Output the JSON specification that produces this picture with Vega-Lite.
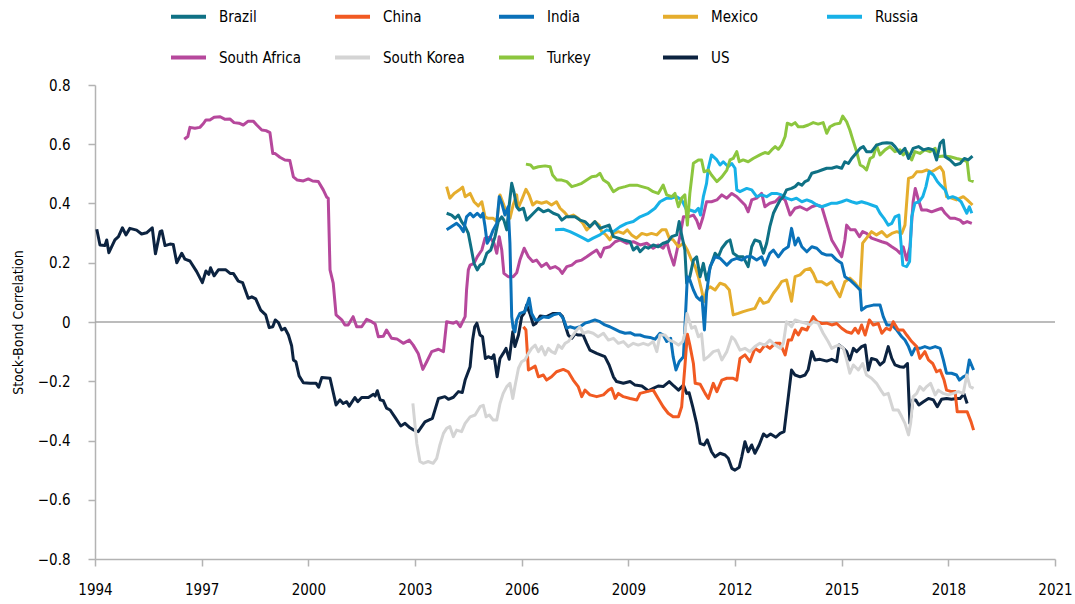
{
"$schema":"https://vega.github.io/schema/vega-lite/v6.json",
"width":960,"height":474,
"autosize":{"type":"none"},
"padding":{"left":95,"top":85,"right":20,"bottom":45},
"config":{"font":"DejaVu Sans Condensed, sans-serif","view":{"stroke":null}},
"data":{"values":[
{"country":"US","year":1994.05,"corr":0.313},{"country":"US","year":1994.14,"corr":0.26},{"country":"US","year":1994.28,"corr":0.258},{"country":"US","year":1994.33,"corr":0.277},{"country":"US","year":1994.39,"corr":0.234},{"country":"US","year":1994.56,"corr":0.277},{"country":"US","year":1994.66,"corr":0.288},{"country":"US","year":1994.77,"corr":0.318},{"country":"US","year":1994.87,"corr":0.294},{"country":"US","year":1994.98,"corr":0.316},{"country":"US","year":1995.17,"corr":0.31},{"country":"US","year":1995.31,"corr":0.297},{"country":"US","year":1995.45,"corr":0.301},{"country":"US","year":1995.61,"corr":0.318},{"country":"US","year":1995.70,"corr":0.23},{"country":"US","year":1995.83,"corr":0.305},{"country":"US","year":1995.88,"corr":0.308},{"country":"US","year":1995.97,"corr":0.258},{"country":"US","year":1996.11,"corr":0.263},{"country":"US","year":1996.20,"corr":0.262},{"country":"US","year":1996.30,"corr":0.2},{"country":"US","year":1996.44,"corr":0.232},{"country":"US","year":1996.53,"corr":0.212},{"country":"US","year":1996.67,"corr":0.206},{"country":"US","year":1996.86,"corr":0.17},{"country":"US","year":1997.02,"corr":0.133},{"country":"US","year":1997.12,"corr":0.172},{"country":"US","year":1997.20,"corr":0.161},{"country":"US","year":1997.25,"corr":0.183},{"country":"US","year":1997.35,"corr":0.156},{"country":"US","year":1997.47,"corr":0.176},{"country":"US","year":1997.68,"corr":0.176},{"country":"US","year":1997.80,"corr":0.164},{"country":"US","year":1997.89,"corr":0.164},{"country":"US","year":1998.03,"corr":0.138},{"country":"US","year":1998.15,"corr":0.133},{"country":"US","year":1998.31,"corr":0.08},{"country":"US","year":1998.41,"corr":0.085},{"country":"US","year":1998.52,"corr":0.078},{"country":"US","year":1998.66,"corr":0.04},{"country":"US","year":1998.80,"corr":0.024},{"country":"US","year":1998.90,"corr":-0.019},{"country":"US","year":1999.00,"corr":-0.016},{"country":"US","year":1999.07,"corr":0.007},{"country":"US","year":1999.16,"corr":-0.002},{"country":"US","year":1999.25,"corr":-0.027},{"country":"US","year":1999.34,"corr":-0.021},{"country":"US","year":1999.44,"corr":-0.044},{"country":"US","year":1999.53,"corr":-0.08},{"country":"US","year":1999.58,"corr":-0.128},{"country":"US","year":1999.65,"corr":-0.134},{"country":"US","year":1999.74,"corr":-0.182},{"country":"US","year":1999.86,"corr":-0.205},{"country":"US","year":2000.05,"corr":-0.207},{"country":"US","year":2000.22,"corr":-0.207},{"country":"US","year":2000.29,"corr":-0.22},{"country":"US","year":2000.38,"corr":-0.187},{"country":"US","year":2000.61,"corr":-0.19},{"country":"US","year":2000.78,"corr":-0.28},{"country":"US","year":2000.89,"corr":-0.263},{"country":"US","year":2000.98,"corr":-0.275},{"country":"US","year":2001.08,"corr":-0.269},{"country":"US","year":2001.15,"corr":-0.284},{"country":"US","year":2001.31,"corr":-0.255},{"country":"US","year":2001.39,"corr":-0.269},{"country":"US","year":2001.50,"corr":-0.255},{"country":"US","year":2001.69,"corr":-0.255},{"country":"US","year":2001.83,"corr":-0.244},{"country":"US","year":2001.88,"corr":-0.25},{"country":"US","year":2001.94,"corr":-0.232},{"country":"US","year":2002.02,"corr":-0.263},{"country":"US","year":2002.11,"corr":-0.266},{"country":"US","year":2002.20,"corr":-0.291},{"country":"US","year":2002.30,"corr":-0.297},{"country":"US","year":2002.44,"corr":-0.322},{"country":"US","year":2002.60,"corr":-0.351},{"country":"US","year":2002.72,"corr":-0.342},{"country":"US","year":2002.86,"corr":-0.357},{"country":"US","year":2002.97,"corr":-0.365},{"country":"US","year":2003.09,"corr":-0.37},{"country":"US","year":2003.28,"corr":-0.337},{"country":"US","year":2003.49,"corr":-0.325},{"country":"US","year":2003.66,"corr":-0.258},{"country":"US","year":2003.84,"corr":-0.252},{"country":"US","year":2003.94,"corr":-0.261},{"country":"US","year":2004.08,"corr":-0.254},{"country":"US","year":2004.22,"corr":-0.235},{"country":"US","year":2004.33,"corr":-0.238},{"country":"US","year":2004.41,"corr":-0.196},{"country":"US","year":2004.55,"corr":-0.151},{"country":"US","year":2004.62,"corr":-0.061},{"country":"US","year":2004.68,"corr":-0.016},{"country":"US","year":2004.74,"corr":-0.004},{"country":"US","year":2004.83,"corr":-0.044},{"country":"US","year":2004.90,"corr":-0.05},{"country":"US","year":2004.98,"corr":-0.123},{"country":"US","year":2005.06,"corr":-0.117},{"country":"US","year":2005.16,"corr":-0.123},{"country":"US","year":2005.22,"corr":-0.111},{"country":"US","year":2005.31,"corr":-0.185},{"country":"US","year":2005.39,"corr":-0.123},{"country":"US","year":2005.48,"corr":-0.106},{"country":"US","year":2005.56,"corr":-0.089},{"country":"US","year":2005.65,"corr":-0.126},{"country":"US","year":2005.75,"corr":-0.033},{"country":"US","year":2005.81,"corr":-0.083},{"country":"US","year":2005.91,"corr":-0.044},{"country":"US","year":2006.00,"corr":0.018},{"country":"US","year":2006.07,"corr":0.029},{"country":"US","year":2006.14,"corr":0.057},{"country":"US","year":2006.23,"corr":0.029},{"country":"US","year":2006.33,"corr":-0.01},{"country":"US","year":2006.40,"corr":-0.005},{"country":"US","year":2006.52,"corr":0.02},{"country":"US","year":2006.70,"corr":0.018},{"country":"US","year":2006.89,"corr":0.029},{"country":"US","year":2007.06,"corr":0.029},{"country":"US","year":2007.15,"corr":0.018},{"country":"US","year":2007.22,"corr":-0.01},{"country":"US","year":2007.31,"corr":-0.044},{"country":"US","year":2007.41,"corr":-0.055},{"country":"US","year":2007.50,"corr":-0.04},{"country":"US","year":2007.59,"corr":-0.044},{"country":"US","year":2007.73,"corr":-0.044},{"country":"US","year":2007.83,"corr":-0.072},{"country":"US","year":2007.92,"corr":-0.095},{"country":"US","year":2008.11,"corr":-0.106},{"country":"US","year":2008.34,"corr":-0.117},{"country":"US","year":2008.46,"corr":-0.145},{"country":"US","year":2008.58,"corr":-0.185},{"country":"US","year":2008.67,"corr":-0.201},{"country":"US","year":2008.86,"corr":-0.207},{"country":"US","year":2009.05,"corr":-0.201},{"country":"US","year":2009.19,"corr":-0.213},{"country":"US","year":2009.38,"corr":-0.216},{"country":"US","year":2009.56,"corr":-0.232},{"country":"US","year":2009.70,"corr":-0.224},{"country":"US","year":2009.84,"corr":-0.216},{"country":"US","year":2009.98,"corr":-0.218},{"country":"US","year":2010.15,"corr":-0.201},{"country":"US","year":2010.28,"corr":-0.216},{"country":"US","year":2010.41,"corr":-0.23},{"country":"US","year":2010.55,"corr":-0.213},{"country":"US","year":2010.64,"corr":-0.241},{"country":"US","year":2010.71,"corr":-0.239},{"country":"US","year":2010.81,"corr":-0.286},{"country":"US","year":2010.92,"corr":-0.342},{"country":"US","year":2011.02,"corr":-0.41},{"country":"US","year":2011.13,"corr":-0.415},{"country":"US","year":2011.22,"corr":-0.398},{"country":"US","year":2011.34,"corr":-0.438},{"country":"US","year":2011.44,"corr":-0.455},{"country":"US","year":2011.58,"corr":-0.443},{"country":"US","year":2011.72,"corr":-0.449},{"country":"US","year":2011.81,"corr":-0.46},{"country":"US","year":2011.91,"corr":-0.494},{"country":"US","year":2012.00,"corr":-0.5},{"country":"US","year":2012.12,"corr":-0.49},{"country":"US","year":2012.19,"corr":-0.455},{"country":"US","year":2012.28,"corr":-0.404},{"country":"US","year":2012.37,"corr":-0.438},{"country":"US","year":2012.47,"corr":-0.415},{"country":"US","year":2012.56,"corr":-0.443},{"country":"US","year":2012.68,"corr":-0.415},{"country":"US","year":2012.80,"corr":-0.378},{"country":"US","year":2012.89,"corr":-0.387},{"country":"US","year":2013.00,"corr":-0.378},{"country":"US","year":2013.15,"corr":-0.389},{"country":"US","year":2013.27,"corr":-0.376},{"country":"US","year":2013.38,"corr":-0.37},{"country":"US","year":2013.50,"corr":-0.252},{"country":"US","year":2013.59,"corr":-0.162},{"country":"US","year":2013.69,"corr":-0.179},{"country":"US","year":2013.83,"corr":-0.185},{"country":"US","year":2013.97,"corr":-0.179},{"country":"US","year":2014.06,"corr":-0.16},{"country":"US","year":2014.16,"corr":-0.1},{"country":"US","year":2014.25,"corr":-0.128},{"country":"US","year":2014.39,"corr":-0.126},{"country":"US","year":2014.58,"corr":-0.132},{"country":"US","year":2014.72,"corr":-0.126},{"country":"US","year":2014.86,"corr":-0.134},{"country":"US","year":2014.93,"corr":-0.078},{"country":"US","year":2015.05,"corr":-0.089},{"country":"US","year":2015.14,"corr":-0.1},{"country":"US","year":2015.23,"corr":-0.128},{"country":"US","year":2015.33,"corr":-0.089},{"country":"US","year":2015.42,"corr":-0.1},{"country":"US","year":2015.56,"corr":-0.083},{"country":"US","year":2015.66,"corr":-0.078},{"country":"US","year":2015.75,"corr":-0.162},{"country":"US","year":2015.84,"corr":-0.123},{"country":"US","year":2015.98,"corr":-0.128},{"country":"US","year":2016.08,"corr":-0.145},{"country":"US","year":2016.19,"corr":-0.134},{"country":"US","year":2016.31,"corr":-0.083},{"country":"US","year":2016.41,"corr":-0.123},{"country":"US","year":2016.50,"corr":-0.145},{"country":"US","year":2016.64,"corr":-0.151},{"country":"US","year":2016.75,"corr":-0.153},{"country":"US","year":2016.85,"corr":-0.14},{"country":"US","year":2016.92,"corr":-0.342},{"country":"US","year":2017.00,"corr":-0.263},{"country":"US","year":2017.08,"corr":-0.263},{"country":"US","year":2017.17,"corr":-0.28},{"country":"US","year":2017.30,"corr":-0.269},{"country":"US","year":2017.44,"corr":-0.258},{"country":"US","year":2017.58,"corr":-0.263},{"country":"US","year":2017.69,"corr":-0.286},{"country":"US","year":2017.81,"corr":-0.261},{"country":"US","year":2017.95,"corr":-0.258},{"country":"US","year":2018.09,"corr":-0.261},{"country":"US","year":2018.23,"corr":-0.258},{"country":"US","year":2018.33,"corr":-0.258},{"country":"US","year":2018.44,"corr":-0.243},{"country":"US","year":2018.53,"corr":-0.275},
{"country":"South Africa","year":1996.51,"corr":0.617},{"country":"South Africa","year":1996.61,"corr":0.626},{"country":"South Africa","year":1996.67,"corr":0.657},{"country":"South Africa","year":1996.81,"corr":0.654},{"country":"South Africa","year":1996.95,"corr":0.657},{"country":"South Africa","year":1997.05,"corr":0.67},{"country":"South Africa","year":1997.12,"corr":0.682},{"country":"South Africa","year":1997.23,"corr":0.682},{"country":"South Africa","year":1997.35,"corr":0.691},{"country":"South Africa","year":1997.52,"corr":0.693},{"country":"South Africa","year":1997.66,"corr":0.684},{"country":"South Africa","year":1997.80,"corr":0.685},{"country":"South Africa","year":1997.91,"corr":0.673},{"country":"South Africa","year":1998.05,"corr":0.671},{"country":"South Africa","year":1998.17,"corr":0.665},{"country":"South Africa","year":1998.31,"corr":0.678},{"country":"South Africa","year":1998.45,"corr":0.678},{"country":"South Africa","year":1998.55,"corr":0.665},{"country":"South Africa","year":1998.69,"corr":0.648},{"country":"South Africa","year":1998.81,"corr":0.646},{"country":"South Africa","year":1998.92,"corr":0.639},{"country":"South Africa","year":1999.00,"corr":0.569},{"country":"South Africa","year":1999.06,"corr":0.569},{"country":"South Africa","year":1999.20,"corr":0.556},{"country":"South Africa","year":1999.34,"corr":0.547},{"country":"South Africa","year":1999.48,"corr":0.545},{"country":"South Africa","year":1999.58,"corr":0.49},{"country":"South Africa","year":1999.69,"corr":0.479},{"country":"South Africa","year":1999.86,"corr":0.476},{"country":"South Africa","year":2000.00,"corr":0.483},{"country":"South Africa","year":2000.12,"corr":0.476},{"country":"South Africa","year":2000.28,"corr":0.474},{"country":"South Africa","year":2000.42,"corr":0.446},{"country":"South Africa","year":2000.52,"corr":0.421},{"country":"South Africa","year":2000.56,"corr":0.418},{"country":"South Africa","year":2000.61,"corr":0.176},{"country":"South Africa","year":2000.70,"corr":0.131},{"country":"South Africa","year":2000.78,"corr":0.024},{"country":"South Africa","year":2000.94,"corr":0.007},{"country":"South Africa","year":2001.03,"corr":-0.01},{"country":"South Africa","year":2001.12,"corr":-0.01},{"country":"South Africa","year":2001.26,"corr":0.018},{"country":"South Africa","year":2001.36,"corr":-0.016},{"country":"South Africa","year":2001.50,"corr":-0.016},{"country":"South Africa","year":2001.64,"corr":0.009},{"country":"South Africa","year":2001.78,"corr":0.001},{"country":"South Africa","year":2001.88,"corr":-0.007},{"country":"South Africa","year":2001.97,"corr":-0.05},{"country":"South Africa","year":2002.11,"corr":-0.048},{"country":"South Africa","year":2002.20,"corr":-0.027},{"country":"South Africa","year":2002.34,"corr":-0.055},{"country":"South Africa","year":2002.49,"corr":-0.057},{"country":"South Africa","year":2002.67,"corr":-0.072},{"country":"South Africa","year":2002.84,"corr":-0.061},{"country":"South Africa","year":2002.95,"corr":-0.078},{"country":"South Africa","year":2003.09,"corr":-0.106},{"country":"South Africa","year":2003.22,"corr":-0.16},{"country":"South Africa","year":2003.33,"corr":-0.134},{"country":"South Africa","year":2003.47,"corr":-0.1},{"country":"South Africa","year":2003.66,"corr":-0.092},{"country":"South Africa","year":2003.80,"corr":-0.1},{"country":"South Africa","year":2003.89,"corr":0.001},{"country":"South Africa","year":2004.08,"corr":-0.004},{"country":"South Africa","year":2004.17,"corr":0.001},{"country":"South Africa","year":2004.27,"corr":-0.016},{"country":"South Africa","year":2004.41,"corr":0.018},{"country":"South Africa","year":2004.45,"corr":0.108},{"country":"South Africa","year":2004.50,"corr":0.176},{"country":"South Africa","year":2004.55,"corr":0.192},{"country":"South Africa","year":2004.66,"corr":0.198},{"country":"South Africa","year":2004.75,"corr":0.22},{"country":"South Africa","year":2004.88,"corr":0.243},{"country":"South Africa","year":2004.97,"corr":0.283},{"country":"South Africa","year":2005.11,"corr":0.286},{"country":"South Africa","year":2005.22,"corr":0.266},{"country":"South Africa","year":2005.30,"corr":0.232},{"country":"South Africa","year":2005.37,"corr":0.288},{"country":"South Africa","year":2005.44,"corr":0.243},{"country":"South Africa","year":2005.50,"corr":0.164},{"country":"South Africa","year":2005.62,"corr":0.153},{"country":"South Africa","year":2005.76,"corr":0.153},{"country":"South Africa","year":2005.86,"corr":0.166},{"country":"South Africa","year":2005.95,"corr":0.209},{"country":"South Africa","year":2006.07,"corr":0.249},{"country":"South Africa","year":2006.19,"corr":0.22},{"country":"South Africa","year":2006.31,"corr":0.204},{"country":"South Africa","year":2006.42,"corr":0.209},{"country":"South Africa","year":2006.56,"corr":0.187},{"country":"South Africa","year":2006.70,"corr":0.198},{"country":"South Africa","year":2006.80,"corr":0.181},{"country":"South Africa","year":2006.94,"corr":0.187},{"country":"South Africa","year":2007.06,"corr":0.178},{"country":"South Africa","year":2007.14,"corr":0.164},{"country":"South Africa","year":2007.27,"corr":0.187},{"country":"South Africa","year":2007.41,"corr":0.192},{"country":"South Africa","year":2007.53,"corr":0.204},{"country":"South Africa","year":2007.69,"corr":0.209},{"country":"South Africa","year":2007.83,"corr":0.22},{"country":"South Africa","year":2007.97,"corr":0.232},{"country":"South Africa","year":2008.11,"corr":0.243},{"country":"South Africa","year":2008.22,"corr":0.22},{"country":"South Africa","year":2008.32,"corr":0.249},{"country":"South Africa","year":2008.48,"corr":0.254},{"country":"South Africa","year":2008.63,"corr":0.271},{"country":"South Africa","year":2008.77,"corr":0.277},{"country":"South Africa","year":2008.95,"corr":0.266},{"country":"South Africa","year":2009.14,"corr":0.271},{"country":"South Africa","year":2009.33,"corr":0.26},{"country":"South Africa","year":2009.52,"corr":0.266},{"country":"South Africa","year":2009.70,"corr":0.249},{"country":"South Africa","year":2009.84,"corr":0.26},{"country":"South Africa","year":2009.98,"corr":0.249},{"country":"South Africa","year":2010.08,"corr":0.271},{"country":"South Africa","year":2010.17,"corr":0.232},{"country":"South Africa","year":2010.28,"corr":0.192},{"country":"South Africa","year":2010.36,"corr":0.237},{"country":"South Africa","year":2010.45,"corr":0.288},{"country":"South Africa","year":2010.55,"corr":0.355},{"country":"South Africa","year":2010.69,"corr":0.355},{"country":"South Africa","year":2010.83,"corr":0.361},{"country":"South Africa","year":2010.92,"corr":0.344},{"country":"South Africa","year":2011.00,"corr":0.316},{"country":"South Africa","year":2011.09,"corr":0.35},{"country":"South Africa","year":2011.20,"corr":0.406},{"country":"South Africa","year":2011.34,"corr":0.406},{"country":"South Africa","year":2011.49,"corr":0.412},{"country":"South Africa","year":2011.63,"corr":0.429},{"country":"South Africa","year":2011.77,"corr":0.418},{"country":"South Africa","year":2011.91,"corr":0.434},{"country":"South Africa","year":2012.05,"corr":0.423},{"country":"South Africa","year":2012.14,"corr":0.412},{"country":"South Africa","year":2012.28,"corr":0.395},{"country":"South Africa","year":2012.37,"corr":0.372},{"country":"South Africa","year":2012.47,"corr":0.412},{"country":"South Africa","year":2012.61,"corr":0.418},{"country":"South Africa","year":2012.75,"corr":0.434},{"country":"South Africa","year":2012.84,"corr":0.389},{"country":"South Africa","year":2012.98,"corr":0.401},{"country":"South Africa","year":2013.13,"corr":0.406},{"country":"South Africa","year":2013.27,"corr":0.423},{"country":"South Africa","year":2013.41,"corr":0.412},{"country":"South Africa","year":2013.55,"corr":0.361},{"country":"South Africa","year":2013.69,"corr":0.384},{"country":"South Africa","year":2013.83,"corr":0.389},{"country":"South Africa","year":2014.02,"corr":0.378},{"country":"South Africa","year":2014.16,"corr":0.389},{"country":"South Africa","year":2014.30,"corr":0.395},{"country":"South Africa","year":2014.44,"corr":0.389},{"country":"South Africa","year":2014.58,"corr":0.333},{"country":"South Africa","year":2014.72,"corr":0.277},{"country":"South Africa","year":2014.86,"corr":0.249},{"country":"South Africa","year":2015.00,"corr":0.22},{"country":"South Africa","year":2015.09,"corr":0.277},{"country":"South Africa","year":2015.14,"corr":0.327},{"country":"South Africa","year":2015.25,"corr":0.311},{"country":"South Africa","year":2015.38,"corr":0.311},{"country":"South Africa","year":2015.50,"corr":0.288},{"country":"South Africa","year":2015.59,"corr":0.305},{"country":"South Africa","year":2015.70,"corr":0.299},{"country":"South Africa","year":2015.84,"corr":0.283},{"country":"South Africa","year":2015.98,"corr":0.277},{"country":"South Africa","year":2016.13,"corr":0.271},{"country":"South Africa","year":2016.27,"corr":0.266},{"country":"South Africa","year":2016.41,"corr":0.254},{"country":"South Africa","year":2016.55,"corr":0.243},{"country":"South Africa","year":2016.64,"corr":0.232},{"country":"South Africa","year":2016.73,"corr":0.254},{"country":"South Africa","year":2016.83,"corr":0.209},{"country":"South Africa","year":2016.92,"corr":0.254},{"country":"South Africa","year":2017.01,"corr":0.406},{"country":"South Africa","year":2017.07,"corr":0.451},{"country":"South Africa","year":2017.16,"corr":0.412},{"country":"South Africa","year":2017.25,"corr":0.378},{"country":"South Africa","year":2017.39,"corr":0.378},{"country":"South Africa","year":2017.53,"corr":0.372},{"country":"South Africa","year":2017.67,"corr":0.378},{"country":"South Africa","year":2017.81,"corr":0.384},{"country":"South Africa","year":2017.91,"corr":0.367},{"country":"South Africa","year":2018.05,"corr":0.35},{"country":"South Africa","year":2018.19,"corr":0.35},{"country":"South Africa","year":2018.33,"corr":0.344},{"country":"South Africa","year":2018.42,"corr":0.333},{"country":"South Africa","year":2018.53,"corr":0.339},{"country":"South Africa","year":2018.66,"corr":0.333},
{"country":"Mexico","year":2003.89,"corr":0.457},{"country":"Mexico","year":2003.98,"corr":0.418},{"country":"Mexico","year":2004.10,"corr":0.434},{"country":"Mexico","year":2004.25,"corr":0.446},{"country":"Mexico","year":2004.34,"corr":0.455},{"country":"Mexico","year":2004.41,"corr":0.423},{"country":"Mexico","year":2004.55,"corr":0.434},{"country":"Mexico","year":2004.66,"corr":0.406},{"country":"Mexico","year":2004.78,"corr":0.392},{"country":"Mexico","year":2004.88,"corr":0.406},{"country":"Mexico","year":2004.97,"corr":0.355},{"country":"Mexico","year":2005.06,"corr":0.35},{"country":"Mexico","year":2005.20,"corr":0.35},{"country":"Mexico","year":2005.30,"corr":0.339},{"country":"Mexico","year":2005.39,"corr":0.429},{"country":"Mexico","year":2005.48,"corr":0.401},{"country":"Mexico","year":2005.58,"corr":0.367},{"country":"Mexico","year":2005.67,"corr":0.35},{"country":"Mexico","year":2005.76,"corr":0.395},{"country":"Mexico","year":2005.86,"corr":0.429},{"country":"Mexico","year":2005.90,"corr":0.384},{"country":"Mexico","year":2006.00,"corr":0.412},{"country":"Mexico","year":2006.12,"corr":0.448},{"country":"Mexico","year":2006.21,"corr":0.429},{"country":"Mexico","year":2006.31,"corr":0.395},{"country":"Mexico","year":2006.42,"corr":0.406},{"country":"Mexico","year":2006.56,"corr":0.401},{"country":"Mexico","year":2006.70,"corr":0.406},{"country":"Mexico","year":2006.84,"corr":0.395},{"country":"Mexico","year":2006.98,"corr":0.406},{"country":"Mexico","year":2007.08,"corr":0.384},{"country":"Mexico","year":2007.19,"corr":0.372},{"country":"Mexico","year":2007.31,"corr":0.355},{"country":"Mexico","year":2007.45,"corr":0.361},{"country":"Mexico","year":2007.59,"corr":0.35},{"country":"Mexico","year":2007.72,"corr":0.333},{"country":"Mexico","year":2007.83,"corr":0.311},{"country":"Mexico","year":2007.92,"corr":0.322},{"country":"Mexico","year":2008.06,"corr":0.339},{"country":"Mexico","year":2008.18,"corr":0.327},{"country":"Mexico","year":2008.25,"corr":0.305},{"country":"Mexico","year":2008.37,"corr":0.294},{"country":"Mexico","year":2008.48,"corr":0.277},{"country":"Mexico","year":2008.58,"corr":0.299},{"country":"Mexico","year":2008.72,"corr":0.305},{"country":"Mexico","year":2008.86,"corr":0.299},{"country":"Mexico","year":2008.97,"corr":0.311},{"country":"Mexico","year":2009.09,"corr":0.294},{"country":"Mexico","year":2009.23,"corr":0.283},{"country":"Mexico","year":2009.38,"corr":0.299},{"country":"Mexico","year":2009.52,"corr":0.294},{"country":"Mexico","year":2009.65,"corr":0.299},{"country":"Mexico","year":2009.80,"corr":0.294},{"country":"Mexico","year":2009.94,"corr":0.311},{"country":"Mexico","year":2010.06,"corr":0.311},{"country":"Mexico","year":2010.15,"corr":0.283},{"country":"Mexico","year":2010.26,"corr":0.277},{"country":"Mexico","year":2010.41,"corr":0.254},{"country":"Mexico","year":2010.55,"corr":0.266},{"country":"Mexico","year":2010.66,"corr":0.243},{"country":"Mexico","year":2010.78,"corr":0.209},{"country":"Mexico","year":2010.88,"corr":0.187},{"country":"Mexico","year":2010.97,"corr":0.153},{"country":"Mexico","year":2011.06,"corr":0.108},{"country":"Mexico","year":2011.13,"corr":0.069},{"country":"Mexico","year":2011.20,"corr":0.108},{"country":"Mexico","year":2011.30,"corr":0.119},{"country":"Mexico","year":2011.44,"corr":0.108},{"country":"Mexico","year":2011.58,"corr":0.131},{"country":"Mexico","year":2011.72,"corr":0.125},{"country":"Mexico","year":2011.84,"corr":0.108},{"country":"Mexico","year":2011.95,"corr":0.024},{"country":"Mexico","year":2012.09,"corr":0.029},{"country":"Mexico","year":2012.23,"corr":0.035},{"country":"Mexico","year":2012.37,"corr":0.04},{"country":"Mexico","year":2012.56,"corr":0.046},{"country":"Mexico","year":2012.70,"corr":0.08},{"country":"Mexico","year":2012.80,"corr":0.063},{"country":"Mexico","year":2012.94,"corr":0.069},{"country":"Mexico","year":2013.08,"corr":0.097},{"country":"Mexico","year":2013.22,"corr":0.119},{"country":"Mexico","year":2013.31,"corr":0.136},{"country":"Mexico","year":2013.45,"corr":0.142},{"country":"Mexico","year":2013.59,"corr":0.07},{"country":"Mexico","year":2013.69,"corr":0.153},{"country":"Mexico","year":2013.83,"corr":0.159},{"country":"Mexico","year":2013.97,"corr":0.176},{"country":"Mexico","year":2014.11,"corr":0.181},{"country":"Mexico","year":2014.20,"corr":0.164},{"country":"Mexico","year":2014.30,"corr":0.136},{"country":"Mexico","year":2014.44,"corr":0.136},{"country":"Mexico","year":2014.58,"corr":0.125},{"country":"Mexico","year":2014.72,"corr":0.136},{"country":"Mexico","year":2014.81,"corr":0.114},{"country":"Mexico","year":2014.95,"corr":0.085},{"country":"Mexico","year":2015.09,"corr":0.136},{"country":"Mexico","year":2015.23,"corr":0.148},{"country":"Mexico","year":2015.38,"corr":0.131},{"country":"Mexico","year":2015.52,"corr":0.108},{"country":"Mexico","year":2015.59,"corr":0.266},{"country":"Mexico","year":2015.70,"corr":0.283},{"country":"Mexico","year":2015.84,"corr":0.305},{"country":"Mexico","year":2015.98,"corr":0.294},{"country":"Mexico","year":2016.13,"corr":0.305},{"country":"Mexico","year":2016.27,"corr":0.288},{"country":"Mexico","year":2016.41,"corr":0.299},{"country":"Mexico","year":2016.55,"corr":0.305},{"country":"Mexico","year":2016.69,"corr":0.299},{"country":"Mexico","year":2016.78,"corr":0.327},{"country":"Mexico","year":2016.88,"corr":0.485},{"country":"Mexico","year":2017.00,"corr":0.49},{"country":"Mexico","year":2017.11,"corr":0.507},{"country":"Mexico","year":2017.25,"corr":0.507},{"country":"Mexico","year":2017.39,"corr":0.513},{"country":"Mexico","year":2017.53,"corr":0.507},{"country":"Mexico","year":2017.62,"corr":0.513},{"country":"Mexico","year":2017.77,"corr":0.524},{"country":"Mexico","year":2017.86,"corr":0.507},{"country":"Mexico","year":2017.95,"corr":0.423},{"country":"Mexico","year":2018.09,"corr":0.418},{"country":"Mexico","year":2018.23,"corr":0.412},{"country":"Mexico","year":2018.42,"corr":0.423},{"country":"Mexico","year":2018.53,"corr":0.412},{"country":"Mexico","year":2018.68,"corr":0.395},
{"country":"Russia","year":2006.94,"corr":0.311},{"country":"Russia","year":2007.17,"corr":0.313},{"country":"Russia","year":2007.36,"corr":0.305},{"country":"Russia","year":2007.55,"corr":0.294},{"country":"Russia","year":2007.73,"corr":0.283},{"country":"Russia","year":2007.87,"corr":0.274},{"country":"Russia","year":2008.01,"corr":0.283},{"country":"Russia","year":2008.20,"corr":0.294},{"country":"Russia","year":2008.39,"corr":0.311},{"country":"Russia","year":2008.58,"corr":0.305},{"country":"Russia","year":2008.77,"corr":0.322},{"country":"Russia","year":2008.95,"corr":0.333},{"country":"Russia","year":2009.14,"corr":0.339},{"country":"Russia","year":2009.33,"corr":0.355},{"country":"Russia","year":2009.56,"corr":0.367},{"country":"Russia","year":2009.75,"corr":0.384},{"country":"Russia","year":2009.89,"corr":0.406},{"country":"Russia","year":2010.08,"corr":0.418},{"country":"Russia","year":2010.22,"corr":0.418},{"country":"Russia","year":2010.36,"corr":0.423},{"country":"Russia","year":2010.50,"corr":0.412},{"country":"Russia","year":2010.64,"corr":0.378},{"country":"Russia","year":2010.73,"corr":0.378},{"country":"Russia","year":2010.88,"corr":0.372},{"country":"Russia","year":2010.97,"corr":0.384},{"country":"Russia","year":2011.03,"corr":0.361},{"country":"Russia","year":2011.11,"corr":0.423},{"country":"Russia","year":2011.20,"corr":0.468},{"country":"Russia","year":2011.25,"corr":0.519},{"country":"Russia","year":2011.34,"corr":0.564},{"country":"Russia","year":2011.49,"corr":0.547},{"country":"Russia","year":2011.58,"corr":0.53},{"country":"Russia","year":2011.67,"corr":0.541},{"country":"Russia","year":2011.81,"corr":0.524},{"country":"Russia","year":2011.91,"corr":0.535},{"country":"Russia","year":2012.00,"corr":0.519},{"country":"Russia","year":2012.05,"corr":0.446},{"country":"Russia","year":2012.14,"corr":0.44},{"country":"Russia","year":2012.33,"corr":0.451},{"country":"Russia","year":2012.47,"corr":0.446},{"country":"Russia","year":2012.61,"corr":0.423},{"country":"Russia","year":2012.75,"corr":0.429},{"country":"Russia","year":2012.89,"corr":0.423},{"country":"Russia","year":2013.03,"corr":0.434},{"country":"Russia","year":2013.17,"corr":0.434},{"country":"Russia","year":2013.31,"corr":0.429},{"country":"Russia","year":2013.45,"corr":0.418},{"country":"Russia","year":2013.59,"corr":0.412},{"country":"Russia","year":2013.73,"corr":0.418},{"country":"Russia","year":2013.88,"corr":0.406},{"country":"Russia","year":2014.02,"corr":0.412},{"country":"Russia","year":2014.16,"corr":0.406},{"country":"Russia","year":2014.30,"corr":0.395},{"country":"Russia","year":2014.44,"corr":0.389},{"country":"Russia","year":2014.58,"corr":0.395},{"country":"Russia","year":2014.72,"corr":0.401},{"country":"Russia","year":2014.86,"corr":0.401},{"country":"Russia","year":2015.00,"corr":0.406},{"country":"Russia","year":2015.14,"corr":0.412},{"country":"Russia","year":2015.28,"corr":0.406},{"country":"Russia","year":2015.42,"corr":0.401},{"country":"Russia","year":2015.56,"corr":0.406},{"country":"Russia","year":2015.70,"corr":0.401},{"country":"Russia","year":2015.84,"corr":0.395},{"country":"Russia","year":2015.98,"corr":0.389},{"country":"Russia","year":2016.08,"corr":0.367},{"country":"Russia","year":2016.19,"corr":0.35},{"country":"Russia","year":2016.31,"corr":0.327},{"country":"Russia","year":2016.41,"corr":0.333},{"country":"Russia","year":2016.50,"corr":0.355},{"country":"Russia","year":2016.61,"corr":0.361},{"country":"Russia","year":2016.66,"corr":0.277},{"country":"Russia","year":2016.72,"corr":0.192},{"country":"Russia","year":2016.83,"corr":0.187},{"country":"Russia","year":2016.91,"corr":0.204},{"country":"Russia","year":2016.97,"corr":0.355},{"country":"Russia","year":2017.06,"corr":0.401},{"country":"Russia","year":2017.18,"corr":0.406},{"country":"Russia","year":2017.28,"corr":0.423},{"country":"Russia","year":2017.37,"corr":0.457},{"country":"Russia","year":2017.46,"corr":0.507},{"country":"Russia","year":2017.58,"corr":0.496},{"country":"Russia","year":2017.69,"corr":0.474},{"country":"Russia","year":2017.78,"corr":0.462},{"country":"Russia","year":2017.91,"corr":0.446},{"country":"Russia","year":2018.00,"corr":0.418},{"country":"Russia","year":2018.12,"corr":0.423},{"country":"Russia","year":2018.23,"corr":0.418},{"country":"Russia","year":2018.36,"corr":0.406},{"country":"Russia","year":2018.45,"corr":0.384},{"country":"Russia","year":2018.52,"corr":0.367},{"country":"Russia","year":2018.59,"corr":0.389},{"country":"Russia","year":2018.66,"corr":0.367},
{"country":"Turkey","year":2006.12,"corr":0.533},{"country":"Turkey","year":2006.25,"corr":0.53},{"country":"Turkey","year":2006.33,"corr":0.519},{"country":"Turkey","year":2006.47,"corr":0.524},{"country":"Turkey","year":2006.66,"corr":0.527},{"country":"Turkey","year":2006.80,"corr":0.524},{"country":"Turkey","year":2006.87,"corr":0.496},{"country":"Turkey","year":2006.99,"corr":0.479},{"country":"Turkey","year":2007.13,"corr":0.479},{"country":"Turkey","year":2007.27,"corr":0.474},{"country":"Turkey","year":2007.41,"corr":0.457},{"country":"Turkey","year":2007.55,"corr":0.462},{"country":"Turkey","year":2007.69,"corr":0.468},{"country":"Turkey","year":2007.83,"corr":0.479},{"country":"Turkey","year":2007.97,"corr":0.49},{"country":"Turkey","year":2008.11,"corr":0.493},{"country":"Turkey","year":2008.20,"corr":0.502},{"country":"Turkey","year":2008.30,"corr":0.479},{"country":"Turkey","year":2008.44,"corr":0.468},{"country":"Turkey","year":2008.58,"corr":0.44},{"country":"Turkey","year":2008.72,"corr":0.451},{"country":"Turkey","year":2008.91,"corr":0.457},{"country":"Turkey","year":2009.05,"corr":0.462},{"country":"Turkey","year":2009.24,"corr":0.462},{"country":"Turkey","year":2009.38,"corr":0.457},{"country":"Turkey","year":2009.56,"corr":0.451},{"country":"Turkey","year":2009.70,"corr":0.44},{"country":"Turkey","year":2009.84,"corr":0.434},{"country":"Turkey","year":2009.98,"corr":0.462},{"country":"Turkey","year":2010.08,"corr":0.429},{"country":"Turkey","year":2010.22,"corr":0.423},{"country":"Turkey","year":2010.31,"corr":0.434},{"country":"Turkey","year":2010.41,"corr":0.389},{"country":"Turkey","year":2010.50,"corr":0.418},{"country":"Turkey","year":2010.59,"corr":0.429},{"country":"Turkey","year":2010.66,"corr":0.327},{"country":"Turkey","year":2010.73,"corr":0.434},{"country":"Turkey","year":2010.83,"corr":0.536},{"country":"Turkey","year":2010.97,"corr":0.547},{"country":"Turkey","year":2011.06,"corr":0.547},{"country":"Turkey","year":2011.13,"corr":0.507},{"country":"Turkey","year":2011.25,"corr":0.513},{"country":"Turkey","year":2011.34,"corr":0.496},{"country":"Turkey","year":2011.49,"corr":0.474},{"country":"Turkey","year":2011.63,"corr":0.49},{"country":"Turkey","year":2011.77,"corr":0.513},{"country":"Turkey","year":2011.86,"corr":0.547},{"country":"Turkey","year":2011.95,"corr":0.552},{"country":"Turkey","year":2012.05,"corr":0.575},{"country":"Turkey","year":2012.12,"corr":0.541},{"country":"Turkey","year":2012.23,"corr":0.547},{"country":"Turkey","year":2012.37,"corr":0.541},{"country":"Turkey","year":2012.51,"corr":0.552},{"country":"Turkey","year":2012.70,"corr":0.564},{"country":"Turkey","year":2012.84,"corr":0.572},{"country":"Turkey","year":2012.94,"corr":0.569},{"country":"Turkey","year":2013.03,"corr":0.581},{"country":"Turkey","year":2013.13,"corr":0.592},{"country":"Turkey","year":2013.22,"corr":0.583},{"country":"Turkey","year":2013.31,"corr":0.597},{"country":"Turkey","year":2013.41,"corr":0.626},{"country":"Turkey","year":2013.47,"corr":0.671},{"country":"Turkey","year":2013.59,"corr":0.665},{"country":"Turkey","year":2013.69,"corr":0.673},{"country":"Turkey","year":2013.78,"corr":0.659},{"country":"Turkey","year":2013.92,"corr":0.659},{"country":"Turkey","year":2014.06,"corr":0.665},{"country":"Turkey","year":2014.20,"corr":0.673},{"country":"Turkey","year":2014.34,"corr":0.668},{"country":"Turkey","year":2014.48,"corr":0.673},{"country":"Turkey","year":2014.58,"corr":0.637},{"country":"Turkey","year":2014.67,"corr":0.659},{"country":"Turkey","year":2014.81,"corr":0.668},{"country":"Turkey","year":2014.95,"corr":0.671},{"country":"Turkey","year":2015.03,"corr":0.695},{"country":"Turkey","year":2015.14,"corr":0.676},{"country":"Turkey","year":2015.23,"corr":0.648},{"country":"Turkey","year":2015.33,"corr":0.609},{"country":"Turkey","year":2015.42,"corr":0.575},{"country":"Turkey","year":2015.52,"corr":0.53},{"country":"Turkey","year":2015.61,"corr":0.524},{"country":"Turkey","year":2015.70,"corr":0.513},{"country":"Turkey","year":2015.80,"corr":0.552},{"country":"Turkey","year":2015.89,"corr":0.558},{"country":"Turkey","year":2015.98,"corr":0.597},{"country":"Turkey","year":2016.08,"corr":0.564},{"country":"Turkey","year":2016.22,"corr":0.581},{"country":"Turkey","year":2016.36,"corr":0.592},{"country":"Turkey","year":2016.50,"corr":0.575},{"country":"Turkey","year":2016.64,"corr":0.581},{"country":"Turkey","year":2016.73,"corr":0.564},{"country":"Turkey","year":2016.83,"corr":0.575},{"country":"Turkey","year":2016.97,"corr":0.547},{"country":"Turkey","year":2017.06,"corr":0.575},{"country":"Turkey","year":2017.20,"corr":0.569},{"country":"Turkey","year":2017.34,"corr":0.581},{"country":"Turkey","year":2017.48,"corr":0.575},{"country":"Turkey","year":2017.63,"corr":0.586},{"country":"Turkey","year":2017.69,"corr":0.558},{"country":"Turkey","year":2017.86,"corr":0.56},{"country":"Turkey","year":2018.05,"corr":0.558},{"country":"Turkey","year":2018.23,"corr":0.552},{"country":"Turkey","year":2018.42,"corr":0.547},{"country":"Turkey","year":2018.53,"corr":0.541},{"country":"Turkey","year":2018.59,"corr":0.479},{"country":"Turkey","year":2018.71,"corr":0.474},
{"country":"Brazil","year":2003.89,"corr":0.367},{"country":"Brazil","year":2004.03,"corr":0.361},{"country":"Brazil","year":2004.13,"corr":0.35},{"country":"Brazil","year":2004.22,"corr":0.361},{"country":"Brazil","year":2004.31,"corr":0.339},{"country":"Brazil","year":2004.41,"corr":0.322},{"country":"Brazil","year":2004.50,"corr":0.299},{"country":"Brazil","year":2004.59,"corr":0.243},{"country":"Brazil","year":2004.66,"corr":0.198},{"country":"Brazil","year":2004.75,"corr":0.176},{"country":"Brazil","year":2004.83,"corr":0.192},{"country":"Brazil","year":2004.92,"corr":0.198},{"country":"Brazil","year":2005.02,"corr":0.232},{"country":"Brazil","year":2005.13,"corr":0.243},{"country":"Brazil","year":2005.25,"corr":0.288},{"country":"Brazil","year":2005.34,"corr":0.339},{"country":"Brazil","year":2005.44,"corr":0.355},{"country":"Brazil","year":2005.50,"corr":0.344},{"country":"Brazil","year":2005.58,"corr":0.311},{"country":"Brazil","year":2005.64,"corr":0.384},{"country":"Brazil","year":2005.72,"corr":0.468},{"country":"Brazil","year":2005.78,"corr":0.44},{"country":"Brazil","year":2005.86,"corr":0.389},{"country":"Brazil","year":2005.93,"corr":0.378},{"country":"Brazil","year":2006.05,"corr":0.384},{"country":"Brazil","year":2006.14,"corr":0.344},{"country":"Brazil","year":2006.23,"corr":0.355},{"country":"Brazil","year":2006.33,"corr":0.367},{"country":"Brazil","year":2006.47,"corr":0.384},{"country":"Brazil","year":2006.61,"corr":0.372},{"country":"Brazil","year":2006.75,"corr":0.378},{"country":"Brazil","year":2006.89,"corr":0.367},{"country":"Brazil","year":2007.03,"corr":0.361},{"country":"Brazil","year":2007.13,"corr":0.344},{"country":"Brazil","year":2007.25,"corr":0.355},{"country":"Brazil","year":2007.36,"corr":0.355},{"country":"Brazil","year":2007.50,"corr":0.355},{"country":"Brazil","year":2007.64,"corr":0.344},{"country":"Brazil","year":2007.78,"corr":0.339},{"country":"Brazil","year":2007.92,"corr":0.322},{"country":"Brazil","year":2008.06,"corr":0.339},{"country":"Brazil","year":2008.20,"corr":0.316},{"country":"Brazil","year":2008.34,"corr":0.322},{"country":"Brazil","year":2008.46,"corr":0.327},{"country":"Brazil","year":2008.58,"corr":0.288},{"country":"Brazil","year":2008.72,"corr":0.283},{"country":"Brazil","year":2008.86,"corr":0.277},{"country":"Brazil","year":2009.05,"corr":0.271},{"country":"Brazil","year":2009.14,"corr":0.243},{"country":"Brazil","year":2009.25,"corr":0.254},{"country":"Brazil","year":2009.33,"corr":0.237},{"country":"Brazil","year":2009.47,"corr":0.254},{"country":"Brazil","year":2009.56,"corr":0.249},{"country":"Brazil","year":2009.70,"corr":0.26},{"country":"Brazil","year":2009.84,"corr":0.254},{"country":"Brazil","year":2009.98,"corr":0.266},{"country":"Brazil","year":2010.12,"corr":0.271},{"country":"Brazil","year":2010.22,"corr":0.288},{"country":"Brazil","year":2010.36,"corr":0.294},{"country":"Brazil","year":2010.43,"corr":0.339},{"country":"Brazil","year":2010.50,"corr":0.294},{"country":"Brazil","year":2010.59,"corr":0.243},{"country":"Brazil","year":2010.64,"corr":0.131},{"country":"Brazil","year":2010.73,"corr":0.153},{"country":"Brazil","year":2010.83,"corr":0.209},{"country":"Brazil","year":2010.92,"corr":0.22},{"country":"Brazil","year":2011.02,"corr":0.153},{"country":"Brazil","year":2011.11,"corr":0.198},{"country":"Brazil","year":2011.20,"corr":0.142},{"country":"Brazil","year":2011.31,"corr":0.187},{"country":"Brazil","year":2011.44,"corr":0.232},{"country":"Brazil","year":2011.53,"corr":0.22},{"country":"Brazil","year":2011.63,"corr":0.249},{"country":"Brazil","year":2011.77,"corr":0.271},{"country":"Brazil","year":2011.86,"corr":0.277},{"country":"Brazil","year":2011.95,"corr":0.232},{"country":"Brazil","year":2012.09,"corr":0.22},{"country":"Brazil","year":2012.23,"corr":0.22},{"country":"Brazil","year":2012.37,"corr":0.187},{"country":"Brazil","year":2012.47,"corr":0.254},{"country":"Brazil","year":2012.56,"corr":0.277},{"country":"Brazil","year":2012.70,"corr":0.271},{"country":"Brazil","year":2012.80,"corr":0.232},{"country":"Brazil","year":2012.89,"corr":0.266},{"country":"Brazil","year":2012.98,"corr":0.322},{"country":"Brazil","year":2013.08,"corr":0.367},{"country":"Brazil","year":2013.17,"corr":0.389},{"country":"Brazil","year":2013.27,"corr":0.412},{"country":"Brazil","year":2013.36,"corr":0.423},{"country":"Brazil","year":2013.45,"corr":0.446},{"country":"Brazil","year":2013.59,"corr":0.451},{"country":"Brazil","year":2013.69,"corr":0.457},{"country":"Brazil","year":2013.78,"corr":0.468},{"country":"Brazil","year":2013.88,"corr":0.462},{"country":"Brazil","year":2013.97,"corr":0.474},{"country":"Brazil","year":2014.06,"corr":0.479},{"country":"Brazil","year":2014.16,"corr":0.502},{"country":"Brazil","year":2014.30,"corr":0.507},{"country":"Brazil","year":2014.44,"corr":0.513},{"country":"Brazil","year":2014.58,"corr":0.519},{"country":"Brazil","year":2014.72,"corr":0.519},{"country":"Brazil","year":2014.86,"corr":0.524},{"country":"Brazil","year":2015.00,"corr":0.519},{"country":"Brazil","year":2015.09,"corr":0.541},{"country":"Brazil","year":2015.19,"corr":0.535},{"country":"Brazil","year":2015.28,"corr":0.552},{"country":"Brazil","year":2015.40,"corr":0.569},{"country":"Brazil","year":2015.52,"corr":0.586},{"country":"Brazil","year":2015.61,"corr":0.592},{"country":"Brazil","year":2015.70,"corr":0.575},{"country":"Brazil","year":2015.84,"corr":0.575},{"country":"Brazil","year":2015.98,"corr":0.597},{"country":"Brazil","year":2016.13,"corr":0.603},{"country":"Brazil","year":2016.27,"corr":0.605},{"country":"Brazil","year":2016.41,"corr":0.603},{"country":"Brazil","year":2016.50,"corr":0.592},{"country":"Brazil","year":2016.64,"corr":0.569},{"country":"Brazil","year":2016.78,"corr":0.586},{"country":"Brazil","year":2016.88,"corr":0.552},{"country":"Brazil","year":2017.01,"corr":0.586},{"country":"Brazil","year":2017.16,"corr":0.592},{"country":"Brazil","year":2017.30,"corr":0.581},{"country":"Brazil","year":2017.44,"corr":0.586},{"country":"Brazil","year":2017.58,"corr":0.581},{"country":"Brazil","year":2017.67,"corr":0.547},{"country":"Brazil","year":2017.77,"corr":0.603},{"country":"Brazil","year":2017.86,"corr":0.614},{"country":"Brazil","year":2017.91,"corr":0.558},{"country":"Brazil","year":2018.05,"corr":0.547},{"country":"Brazil","year":2018.19,"corr":0.53},{"country":"Brazil","year":2018.33,"corr":0.535},{"country":"Brazil","year":2018.45,"corr":0.552},{"country":"Brazil","year":2018.56,"corr":0.547},{"country":"Brazil","year":2018.68,"corr":0.56},
{"country":"India","year":2003.89,"corr":0.311},{"country":"India","year":2004.03,"corr":0.322},{"country":"India","year":2004.17,"corr":0.333},{"country":"India","year":2004.27,"corr":0.322},{"country":"India","year":2004.36,"corr":0.305},{"country":"India","year":2004.45,"corr":0.355},{"country":"India","year":2004.55,"corr":0.367},{"country":"India","year":2004.64,"corr":0.355},{"country":"India","year":2004.75,"corr":0.367},{"country":"India","year":2004.85,"corr":0.355},{"country":"India","year":2004.91,"corr":0.367},{"country":"India","year":2004.97,"corr":0.322},{"country":"India","year":2005.03,"corr":0.266},{"country":"India","year":2005.11,"corr":0.283},{"country":"India","year":2005.20,"corr":0.311},{"country":"India","year":2005.30,"corr":0.333},{"country":"India","year":2005.37,"corr":0.423},{"country":"India","year":2005.44,"corr":0.401},{"country":"India","year":2005.53,"corr":0.361},{"country":"India","year":2005.62,"corr":0.389},{"country":"India","year":2005.67,"corr":0.266},{"country":"India","year":2005.72,"corr":0.018},{"country":"India","year":2005.76,"corr":-0.02},{"country":"India","year":2005.81,"corr":-0.033},{"country":"India","year":2005.86,"corr":0.007},{"country":"India","year":2005.95,"corr":0.029},{"country":"India","year":2006.09,"corr":0.035},{"country":"India","year":2006.21,"corr":0.08},{"country":"India","year":2006.28,"corr":0.029},{"country":"India","year":2006.38,"corr":0.007},{"country":"India","year":2006.47,"corr":0.007},{"country":"India","year":2006.61,"corr":0.018},{"country":"India","year":2006.75,"corr":0.015},{"country":"India","year":2006.89,"corr":0.024},{"country":"India","year":2007.06,"corr":0.029},{"country":"India","year":2007.17,"corr":0.012},{"country":"India","year":2007.27,"corr":-0.021},{"country":"India","year":2007.36,"corr":-0.016},{"country":"India","year":2007.50,"corr":-0.021},{"country":"India","year":2007.64,"corr":-0.016},{"country":"India","year":2007.78,"corr":-0.004},{"country":"India","year":2007.92,"corr":0.001},{"country":"India","year":2008.06,"corr":0.007},{"country":"India","year":2008.20,"corr":0.001},{"country":"India","year":2008.34,"corr":-0.01},{"country":"India","year":2008.48,"corr":-0.016},{"country":"India","year":2008.63,"corr":-0.025},{"country":"India","year":2008.77,"corr":-0.033},{"country":"India","year":2008.91,"corr":-0.038},{"country":"India","year":2009.05,"corr":-0.036},{"country":"India","year":2009.19,"corr":-0.044},{"country":"India","year":2009.33,"corr":-0.044},{"country":"India","year":2009.47,"corr":-0.05},{"country":"India","year":2009.61,"corr":-0.052},{"country":"India","year":2009.75,"corr":-0.058},{"country":"India","year":2009.89,"corr":-0.038},{"country":"India","year":2009.98,"corr":-0.044},{"country":"India","year":2010.08,"corr":-0.066},{"country":"India","year":2010.19,"corr":-0.055},{"country":"India","year":2010.26,"corr":-0.117},{"country":"India","year":2010.34,"corr":-0.162},{"country":"India","year":2010.43,"corr":-0.134},{"country":"India","year":2010.55,"corr":-0.117},{"country":"India","year":2010.61,"corr":0.029},{"country":"India","year":2010.66,"corr":0.153},{"country":"India","year":2010.73,"corr":0.142},{"country":"India","year":2010.83,"corr":0.108},{"country":"India","year":2010.92,"corr":0.085},{"country":"India","year":2011.02,"corr":0.074},{"country":"India","year":2011.07,"corr":0.085},{"country":"India","year":2011.14,"corr":-0.027},{"country":"India","year":2011.20,"corr":0.097},{"country":"India","year":2011.30,"corr":0.187},{"country":"India","year":2011.44,"corr":0.22},{"country":"India","year":2011.58,"corr":0.215},{"country":"India","year":2011.77,"corr":0.192},{"country":"India","year":2011.91,"corr":0.209},{"country":"India","year":2012.05,"corr":0.215},{"country":"India","year":2012.19,"corr":0.209},{"country":"India","year":2012.33,"corr":0.22},{"country":"India","year":2012.47,"corr":0.22},{"country":"India","year":2012.61,"corr":0.209},{"country":"India","year":2012.75,"corr":0.22},{"country":"India","year":2012.84,"corr":0.192},{"country":"India","year":2012.98,"corr":0.232},{"country":"India","year":2013.08,"corr":0.243},{"country":"India","year":2013.22,"corr":0.22},{"country":"India","year":2013.36,"corr":0.243},{"country":"India","year":2013.50,"corr":0.254},{"country":"India","year":2013.59,"corr":0.316},{"country":"India","year":2013.69,"corr":0.26},{"country":"India","year":2013.78,"corr":0.283},{"country":"India","year":2013.88,"corr":0.254},{"country":"India","year":2014.02,"corr":0.237},{"country":"India","year":2014.16,"corr":0.254},{"country":"India","year":2014.30,"corr":0.249},{"country":"India","year":2014.44,"corr":0.232},{"country":"India","year":2014.58,"corr":0.226},{"country":"India","year":2014.72,"corr":0.226},{"country":"India","year":2014.86,"corr":0.209},{"country":"India","year":2015.00,"corr":0.198},{"country":"India","year":2015.09,"corr":0.153},{"country":"India","year":2015.23,"corr":0.142},{"country":"India","year":2015.38,"corr":0.125},{"country":"India","year":2015.52,"corr":0.108},{"country":"India","year":2015.56,"corr":0.04},{"country":"India","year":2015.70,"corr":0.052},{"country":"India","year":2015.89,"corr":0.057},{"country":"India","year":2016.08,"corr":0.057},{"country":"India","year":2016.17,"corr":0.018},{"country":"India","year":2016.27,"corr":-0.01},{"country":"India","year":2016.41,"corr":-0.01},{"country":"India","year":2016.55,"corr":-0.027},{"country":"India","year":2016.69,"corr":-0.05},{"country":"India","year":2016.78,"corr":-0.061},{"country":"India","year":2016.88,"corr":-0.083},{"country":"India","year":2016.97,"corr":-0.111},{"country":"India","year":2017.06,"corr":-0.089},{"country":"India","year":2017.20,"corr":-0.089},{"country":"India","year":2017.34,"corr":-0.083},{"country":"India","year":2017.48,"corr":-0.089},{"country":"India","year":2017.63,"corr":-0.083},{"country":"India","year":2017.77,"corr":-0.089},{"country":"India","year":2017.86,"corr":-0.128},{"country":"India","year":2017.95,"corr":-0.173},{"country":"India","year":2018.09,"corr":-0.173},{"country":"India","year":2018.23,"corr":-0.179},{"country":"India","year":2018.31,"corr":-0.196},{"country":"India","year":2018.42,"corr":-0.185},{"country":"India","year":2018.52,"corr":-0.179},{"country":"India","year":2018.59,"corr":-0.128},{"country":"India","year":2018.71,"corr":-0.162},
{"country":"China","year":2006.05,"corr":-0.016},{"country":"China","year":2006.12,"corr":-0.027},{"country":"China","year":2006.19,"corr":-0.162},{"country":"China","year":2006.28,"corr":-0.156},{"country":"China","year":2006.38,"corr":-0.149},{"country":"China","year":2006.47,"corr":-0.185},{"country":"China","year":2006.61,"corr":-0.179},{"country":"China","year":2006.70,"corr":-0.196},{"country":"China","year":2006.84,"corr":-0.185},{"country":"China","year":2006.98,"corr":-0.168},{"country":"China","year":2007.17,"corr":-0.16},{"country":"China","year":2007.31,"corr":-0.168},{"country":"China","year":2007.45,"corr":-0.196},{"country":"China","year":2007.59,"corr":-0.218},{"country":"China","year":2007.69,"corr":-0.252},{"country":"China","year":2007.78,"corr":-0.23},{"country":"China","year":2007.92,"corr":-0.246},{"country":"China","year":2008.11,"corr":-0.252},{"country":"China","year":2008.30,"corr":-0.246},{"country":"China","year":2008.44,"corr":-0.23},{"country":"China","year":2008.53,"corr":-0.224},{"country":"China","year":2008.63,"corr":-0.258},{"country":"China","year":2008.72,"corr":-0.241},{"country":"China","year":2008.86,"corr":-0.252},{"country":"China","year":2009.05,"corr":-0.258},{"country":"China","year":2009.24,"corr":-0.263},{"country":"China","year":2009.33,"corr":-0.241},{"country":"China","year":2009.52,"corr":-0.235},{"country":"China","year":2009.70,"corr":-0.23},{"country":"China","year":2009.84,"corr":-0.258},{"country":"China","year":2009.98,"corr":-0.286},{"country":"China","year":2010.12,"corr":-0.308},{"country":"China","year":2010.26,"corr":-0.32},{"country":"China","year":2010.41,"corr":-0.32},{"country":"China","year":2010.50,"corr":-0.286},{"country":"China","year":2010.59,"corr":-0.151},{"country":"China","year":2010.66,"corr":-0.041},{"country":"China","year":2010.73,"corr":-0.078},{"country":"China","year":2010.83,"corr":-0.14},{"country":"China","year":2010.88,"corr":-0.207},{"country":"China","year":2011.02,"corr":-0.21},{"country":"China","year":2011.16,"corr":-0.241},{"country":"China","year":2011.25,"corr":-0.258},{"country":"China","year":2011.39,"corr":-0.207},{"country":"China","year":2011.49,"corr":-0.235},{"country":"China","year":2011.63,"corr":-0.196},{"country":"China","year":2011.77,"corr":-0.19},{"country":"China","year":2011.95,"corr":-0.19},{"country":"China","year":2012.05,"corr":-0.196},{"country":"China","year":2012.14,"corr":-0.123},{"country":"China","year":2012.28,"corr":-0.111},{"country":"China","year":2012.42,"corr":-0.134},{"country":"China","year":2012.56,"corr":-0.089},{"country":"China","year":2012.70,"corr":-0.1},{"country":"China","year":2012.84,"corr":-0.078},{"country":"China","year":2012.98,"corr":-0.089},{"country":"China","year":2013.13,"corr":-0.072},{"country":"China","year":2013.27,"corr":-0.072},{"country":"China","year":2013.41,"corr":-0.111},{"country":"China","year":2013.50,"corr":-0.061},{"country":"China","year":2013.59,"corr":-0.061},{"country":"China","year":2013.69,"corr":-0.027},{"country":"China","year":2013.78,"corr":-0.044},{"country":"China","year":2013.88,"corr":-0.021},{"country":"China","year":2014.02,"corr":-0.027},{"country":"China","year":2014.11,"corr":-0.005},{"country":"China","year":2014.20,"corr":0.018},{"country":"China","year":2014.31,"corr":0.001},{"country":"China","year":2014.44,"corr":-0.005},{"country":"China","year":2014.58,"corr":-0.004},{"country":"China","year":2014.72,"corr":-0.01},{"country":"China","year":2014.86,"corr":-0.005},{"country":"China","year":2015.00,"corr":-0.021},{"country":"China","year":2015.14,"corr":-0.033},{"country":"China","year":2015.28,"corr":-0.038},{"country":"China","year":2015.38,"corr":-0.021},{"country":"China","year":2015.47,"corr":-0.038},{"country":"China","year":2015.56,"corr":-0.01},{"country":"China","year":2015.66,"corr":-0.044},{"country":"China","year":2015.78,"corr":0.007},{"country":"China","year":2015.89,"corr":-0.01},{"country":"China","year":2016.03,"corr":-0.005},{"country":"China","year":2016.13,"corr":-0.038},{"country":"China","year":2016.25,"corr":-0.021},{"country":"China","year":2016.36,"corr":-0.027},{"country":"China","year":2016.45,"corr":0.001},{"country":"China","year":2016.59,"corr":-0.027},{"country":"China","year":2016.73,"corr":-0.027},{"country":"China","year":2016.83,"corr":-0.044},{"country":"China","year":2016.97,"corr":-0.066},{"country":"China","year":2017.11,"corr":-0.083},{"country":"China","year":2017.20,"corr":-0.123},{"country":"China","year":2017.34,"corr":-0.1},{"country":"China","year":2017.44,"corr":-0.128},{"country":"China","year":2017.56,"corr":-0.14},{"country":"China","year":2017.67,"corr":-0.168},{"country":"China","year":2017.77,"corr":-0.162},{"country":"China","year":2017.88,"corr":-0.196},{"country":"China","year":2017.95,"corr":-0.23},{"country":"China","year":2018.09,"corr":-0.235},{"country":"China","year":2018.19,"corr":-0.235},{"country":"China","year":2018.25,"corr":-0.303},{"country":"China","year":2018.40,"corr":-0.303},{"country":"China","year":2018.53,"corr":-0.303},{"country":"China","year":2018.64,"corr":-0.337},{"country":"China","year":2018.71,"corr":-0.365},
{"country":"South Korea","year":2002.94,"corr":-0.275},{"country":"South Korea","year":2003.05,"corr":-0.41},{"country":"South Korea","year":2003.14,"corr":-0.471},{"country":"South Korea","year":2003.23,"corr":-0.477},{"country":"South Korea","year":2003.37,"corr":-0.471},{"country":"South Korea","year":2003.51,"corr":-0.477},{"country":"South Korea","year":2003.61,"corr":-0.46},{"country":"South Korea","year":2003.70,"corr":-0.415},{"country":"South Korea","year":2003.80,"corr":-0.376},{"country":"South Korea","year":2003.89,"corr":-0.359},{"country":"South Korea","year":2003.98,"corr":-0.353},{"country":"South Korea","year":2004.08,"corr":-0.387},{"country":"South Korea","year":2004.17,"corr":-0.365},{"country":"South Korea","year":2004.31,"corr":-0.37},{"country":"South Korea","year":2004.41,"corr":-0.342},{"country":"South Korea","year":2004.55,"corr":-0.32},{"country":"South Korea","year":2004.69,"corr":-0.314},{"country":"South Korea","year":2004.83,"corr":-0.286},{"country":"South Korea","year":2004.92,"corr":-0.281},{"country":"South Korea","year":2005.00,"corr":-0.32},{"country":"South Korea","year":2005.09,"corr":-0.314},{"country":"South Korea","year":2005.20,"corr":-0.331},{"country":"South Korea","year":2005.30,"corr":-0.331},{"country":"South Korea","year":2005.39,"corr":-0.275},{"country":"South Korea","year":2005.48,"corr":-0.241},{"country":"South Korea","year":2005.58,"corr":-0.218},{"country":"South Korea","year":2005.67,"corr":-0.207},{"country":"South Korea","year":2005.75,"corr":-0.258},{"country":"South Korea","year":2005.81,"corr":-0.218},{"country":"South Korea","year":2005.91,"corr":-0.156},{"country":"South Korea","year":2006.00,"corr":-0.134},{"country":"South Korea","year":2006.09,"corr":-0.128},{"country":"South Korea","year":2006.19,"corr":-0.106},{"country":"South Korea","year":2006.28,"corr":-0.089},{"country":"South Korea","year":2006.38,"corr":-0.078},{"country":"South Korea","year":2006.47,"corr":-0.1},{"country":"South Korea","year":2006.56,"corr":-0.083},{"country":"South Korea","year":2006.66,"corr":-0.111},{"country":"South Korea","year":2006.75,"corr":-0.089},{"country":"South Korea","year":2006.84,"corr":-0.1},{"country":"South Korea","year":2006.94,"corr":-0.106},{"country":"South Korea","year":2007.03,"corr":-0.078},{"country":"South Korea","year":2007.13,"corr":-0.089},{"country":"South Korea","year":2007.22,"corr":-0.072},{"country":"South Korea","year":2007.31,"corr":-0.066},{"country":"South Korea","year":2007.41,"corr":-0.05},{"country":"South Korea","year":2007.55,"corr":-0.027},{"country":"South Korea","year":2007.64,"corr":-0.016},{"country":"South Korea","year":2007.73,"corr":-0.038},{"country":"South Korea","year":2007.87,"corr":-0.033},{"country":"South Korea","year":2008.01,"corr":-0.038},{"country":"South Korea","year":2008.15,"corr":-0.05},{"country":"South Korea","year":2008.30,"corr":-0.038},{"country":"South Korea","year":2008.44,"corr":-0.061},{"country":"South Korea","year":2008.58,"corr":-0.055},{"country":"South Korea","year":2008.72,"corr":-0.072},{"country":"South Korea","year":2008.86,"corr":-0.066},{"country":"South Korea","year":2009.00,"corr":-0.083},{"country":"South Korea","year":2009.14,"corr":-0.072},{"country":"South Korea","year":2009.28,"corr":-0.078},{"country":"South Korea","year":2009.42,"corr":-0.072},{"country":"South Korea","year":2009.56,"corr":-0.078},{"country":"South Korea","year":2009.70,"corr":-0.066},{"country":"South Korea","year":2009.80,"corr":-0.1},{"country":"South Korea","year":2009.89,"corr":-0.044},{"country":"South Korea","year":2010.03,"corr":-0.044},{"country":"South Korea","year":2010.15,"corr":-0.061},{"country":"South Korea","year":2010.26,"corr":-0.066},{"country":"South Korea","year":2010.41,"corr":-0.078},{"country":"South Korea","year":2010.53,"corr":-0.066},{"country":"South Korea","year":2010.59,"corr":-0.038},{"country":"South Korea","year":2010.65,"corr":0.029},{"country":"South Korea","year":2010.78,"corr":-0.021},{"country":"South Korea","year":2010.88,"corr":-0.015},{"country":"South Korea","year":2010.97,"corr":-0.05},{"country":"South Korea","year":2011.06,"corr":-0.04},{"country":"South Korea","year":2011.13,"corr":-0.128},{"country":"South Korea","year":2011.25,"corr":-0.117},{"country":"South Korea","year":2011.39,"corr":-0.1},{"country":"South Korea","year":2011.53,"corr":-0.095},{"country":"South Korea","year":2011.63,"corr":-0.128},{"country":"South Korea","year":2011.77,"corr":-0.1},{"country":"South Korea","year":2011.91,"corr":-0.05},{"country":"South Korea","year":2012.00,"corr":-0.061},{"country":"South Korea","year":2012.14,"corr":-0.095},{"country":"South Korea","year":2012.28,"corr":-0.089},{"country":"South Korea","year":2012.42,"corr":-0.1},{"country":"South Korea","year":2012.56,"corr":-0.083},{"country":"South Korea","year":2012.70,"corr":-0.072},{"country":"South Korea","year":2012.84,"corr":-0.078},{"country":"South Korea","year":2012.98,"corr":-0.061},{"country":"South Korea","year":2013.13,"corr":-0.078},{"country":"South Korea","year":2013.27,"corr":-0.089},{"country":"South Korea","year":2013.36,"corr":-0.072},{"country":"South Korea","year":2013.45,"corr":0.001},{"country":"South Korea","year":2013.59,"corr":-0.016},{"country":"South Korea","year":2013.69,"corr":0.007},{"country":"South Korea","year":2013.83,"corr":0.001},{"country":"South Korea","year":2013.97,"corr":-0.004},{"country":"South Korea","year":2014.11,"corr":-0.01},{"country":"South Korea","year":2014.20,"corr":0.001},{"country":"South Korea","year":2014.34,"corr":-0.004},{"country":"South Korea","year":2014.48,"corr":-0.038},{"country":"South Korea","year":2014.62,"corr":-0.066},{"country":"South Korea","year":2014.72,"corr":-0.089},{"country":"South Korea","year":2014.81,"corr":-0.083},{"country":"South Korea","year":2014.91,"corr":-0.078},{"country":"South Korea","year":2015.05,"corr":-0.089},{"country":"South Korea","year":2015.14,"corr":-0.128},{"country":"South Korea","year":2015.23,"corr":-0.173},{"country":"South Korea","year":2015.33,"corr":-0.145},{"country":"South Korea","year":2015.47,"corr":-0.162},{"country":"South Korea","year":2015.59,"corr":-0.14},{"country":"South Korea","year":2015.70,"corr":-0.179},{"country":"South Korea","year":2015.84,"corr":-0.19},{"country":"South Korea","year":2015.98,"corr":-0.207},{"country":"South Korea","year":2016.10,"corr":-0.23},{"country":"South Korea","year":2016.19,"corr":-0.246},{"country":"South Korea","year":2016.31,"corr":-0.241},{"country":"South Korea","year":2016.45,"corr":-0.297},{"country":"South Korea","year":2016.59,"corr":-0.297},{"country":"South Korea","year":2016.69,"corr":-0.32},{"country":"South Korea","year":2016.78,"corr":-0.342},{"country":"South Korea","year":2016.88,"corr":-0.381},{"country":"South Korea","year":2016.94,"corr":-0.342},{"country":"South Korea","year":2017.01,"corr":-0.252},{"country":"South Korea","year":2017.11,"corr":-0.241},{"country":"South Korea","year":2017.20,"corr":-0.218},{"country":"South Korea","year":2017.30,"corr":-0.23},{"country":"South Korea","year":2017.39,"corr":-0.218},{"country":"South Korea","year":2017.50,"corr":-0.207},{"country":"South Korea","year":2017.63,"corr":-0.246},{"country":"South Korea","year":2017.72,"corr":-0.23},{"country":"South Korea","year":2017.86,"corr":-0.241},{"country":"South Korea","year":2018.00,"corr":-0.246},{"country":"South Korea","year":2018.14,"corr":-0.241},{"country":"South Korea","year":2018.28,"corr":-0.235},{"country":"South Korea","year":2018.42,"corr":-0.241},{"country":"South Korea","year":2018.52,"corr":-0.179},{"country":"South Korea","year":2018.61,"corr":-0.218},{"country":"South Korea","year":2018.71,"corr":-0.224}
]},
"layer":[
{"data":{"values":[{"zero":0}]},"mark":{"type":"rule","color":"#a6a6a6","strokeWidth":1.5},"encoding":{"y":{"field":"zero","type":"quantitative","scale":{"domain":[-0.8,0.8],"nice":false},
"axis":{"values":[-0.8,-0.6,-0.4,-0.2,0,0.2,0.4,0.6,0.8],"labelExpr":"datum.value == 0 ? '0' : format(datum.value, '.1f')","title":"Stock-Bond Correlation","titleFontSize":14,"titleFontWeight":"normal","titleColor":"#000000","titleX":-77,"titleY":237,"titleAlign":"center","titleBaseline":"middle","grid":false,"domainColor":"#b3b3b3","domainWidth":1.5,"tickColor":"#b3b3b3","tickWidth":1.5,"tickSize":7,"labelPadding":18,"labelFontSize":15,"labelColor":"#000000","labelFlush":false}}}},
{"mark":{"type":"line","strokeWidth":3,"strokeJoin":"round"},
"encoding":{
"x":{"field":"year","type":"quantitative","scale":{"domain":[1994,2021],"nice":false,"zero":false},
"axis":{"values":[1994,1997,2000,2003,2006,2009,2012,2015,2018,2021],"format":"d","title":null,"grid":false,"domainColor":"#b3b3b3","domainWidth":1.5,"tickColor":"#b3b3b3","tickWidth":1.5,"tickSize":7,"labelPadding":16,"labelFontSize":15,"labelColor":"#000000","labelFlush":false}},
"y":{"field":"corr","type":"quantitative","scale":{"domain":[-0.8,0.8],"nice":false},
"axis":{"values":[-0.8,-0.6,-0.4,-0.2,0,0.2,0.4,0.6,0.8],"labelExpr":"datum.value == 0 ? '0' : format(datum.value, '.1f')","title":"Stock-Bond Correlation","titleFontSize":14,"titleFontWeight":"normal","titleColor":"#000000","titleX":-77,"titleY":237,"titleAlign":"center","titleBaseline":"middle","grid":false,"domainColor":"#b3b3b3","domainWidth":1.5,"tickColor":"#b3b3b3","tickWidth":1.5,"tickSize":7,"labelPadding":18,"labelFontSize":15,"labelColor":"#000000","labelFlush":false}},
"color":{"field":"country","type":"nominal",
"scale":{"domain":["Brazil","China","India","Mexico","Russia","South Africa","South Korea","Turkey","US"],"range":["#0f7185","#f15a22","#0a71b9","#e5ad2d","#17b1e7","#b6489c","#d4d4d4","#8cc63e","#0c2340"]},
"legend":{"orient":"none","legendX":74,"legendY":-88,"direction":"horizontal","columns":5,"title":null,"symbolType":"stroke","symbolSize":1225,"symbolStrokeWidth":4,"labelFontSize":15,"labelColor":"#000000","labelOffset":11,"columnPadding":26,"rowPadding":13,"gridAlign":"all","padding":0}}
}}
]
}
